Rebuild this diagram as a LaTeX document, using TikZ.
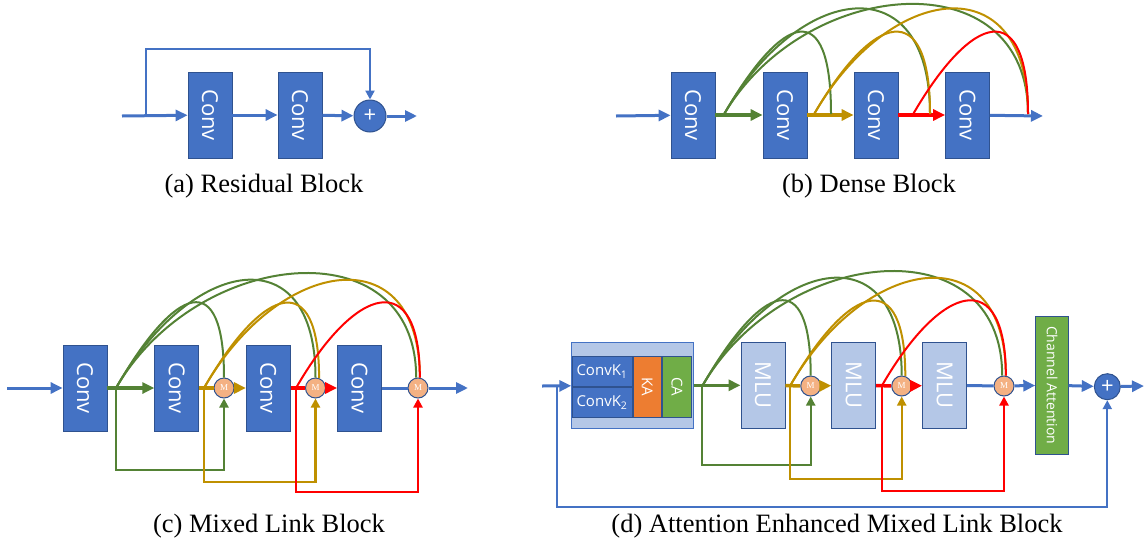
\documentclass[tikz,border=0pt]{standalone}
\usepackage{fontspec}
\setmainfont{Liberation Serif}
\newfontfamily\boxfont{Open Sans}
\usetikzlibrary{arrows.meta}
\definecolor{boxblue}{HTML}{4472C4}
\definecolor{edgeblue}{HTML}{2F528F}
\definecolor{lightblue}{HTML}{B4C7E7}
\definecolor{linkgreen}{HTML}{548235}
\definecolor{linkgold}{HTML}{BF9000}
\definecolor{linkred}{HTML}{FF0000}
\definecolor{mixorange}{HTML}{F4B183}
\definecolor{kaorange}{HTML}{ED7D31}
\definecolor{cagreen}{HTML}{70AD47}

\begin{document}
\begin{tikzpicture}[x=1pt, y=-1pt,
  >={Triangle[length=12pt,width=11pt]},
  convbox/.style={draw=edgeblue, line width=0.8pt, fill=boxblue, text=white, minimum width=44pt, minimum height=86pt, inner sep=0pt, font=\boxfont\fontsize{22}{22}\selectfont},
  mlubox/.style={convbox, fill=lightblue},
  mnode/.style={circle, draw=edgeblue, line width=1pt, fill=mixorange, text=white, minimum size=20pt, inner sep=0pt, font=\fontsize{9}{9}\selectfont},
  plusnode/.style={circle, draw=edgeblue, line width=1pt, fill=boxblue, text=white, inner sep=0pt, font=\boxfont\fontsize{22}{22}\selectfont},
  smallbox/.style={draw=edgeblue, line width=0.8pt, text=white, inner sep=0pt, font=\boxfont\fontsize{15}{15}\selectfont},
  caption/.style={anchor=base, font=\fontsize{26.5}{30}\selectfont},
  bline/.style={boxblue, line width=3pt},
  gline/.style={linkgreen, line width=3.5pt},
  yline/.style={linkgold, line width=3.5pt},
  rline/.style={linkred, line width=3.5pt},
  thin/.style={line width=2.2pt, -{Triangle[length=9pt,width=9pt]}},
  garc/.style={linkgreen, line width=2pt},
  yarc/.style={linkgold, line width=2pt},
  rarc/.style={linkred, line width=2pt}]

\useasboundingbox (0,0) rectangle (1145,544);

% (a)
\node[convbox] (a1) at (210,115) {\rotatebox{-90}{Conv}};
\node[convbox] (a2) at (300,115) {\rotatebox{-90}{Conv}};
\node[plusnode, minimum size=32pt] (ap) at (370,116) {+};
\coordinate (ain) at (122,116);
\coordinate (aout) at (417,116);
\coordinate (askip) at (146,116);
\coordinate (atop) at (370,49);

\draw[bline,->] (ain) -- (a1);
\draw[bline,->] (a1) -- (a2);
\draw[bline,->] (a2) -- (ap);
\draw[bline,->] (ap) -- (aout);
\draw[boxblue,thin] (askip) |- (atop) -- (ap);

\node[caption] (capa) at (264,192) {(a) Residual Block};

% (b)
\node[convbox] (b1) at (693,115) {\rotatebox{-90}{Conv}};
\node[convbox] (b2) at (785,115) {\rotatebox{-90}{Conv}};
\node[convbox] (b3) at (876,115) {\rotatebox{-90}{Conv}};
\node[convbox] (b4) at (967.5,115) {\rotatebox{-90}{Conv}};
\coordinate (bin) at (616,116);
\coordinate (bout) at (1043,116);
\coordinate (bg) at (723,116);
\coordinate (by) at (813,116);
\coordinate (br) at (912,116);
\coordinate (bend1) at (831,114);
\coordinate (bend2) at (930,114);
\coordinate (bend3) at (1028,114);

\draw[bline,->] (bin) -- (b1);
\draw[gline,->] (b1) -- (b2);
\draw[yline,->] (b2) -- (b3);
\draw[rline,->] (b3) -- (b4);
\draw[bline,->] (b4) -- (bout);

\draw[garc] (bg) .. controls +(60,-104) and +(0,-118) .. (bend1);
\draw[garc] (bg) .. controls +(76,-134) and +(0,-150) .. (bend2);
\draw[garc] (bg) .. controls +(81,-140) and +(0,-156) .. (bend3);
\draw[yarc] (by) .. controls +(60,-104) and +(0,-118) .. (bend2);
\draw[yarc] (by) .. controls +(76,-134) and +(0,-150) .. (bend3);
\draw[rarc] (br) .. controls +(60,-104) and +(0,-118) .. (bend3);

\node[caption] (capb) at (869,192) {(b) Dense Block};

% (c)
\node[convbox] (c1) at (85,388) {\rotatebox{-90}{Conv}};
\node[convbox] (c2) at (176.7,388) {\rotatebox{-90}{Conv}};
\node[convbox] (c3) at (268.3,388) {\rotatebox{-90}{Conv}};
\node[convbox] (c4) at (359.5,388) {\rotatebox{-90}{Conv}};
\node[mnode] (cm1) at (224,388) {M};
\node[mnode] (cm2) at (315.5,388) {M};
\node[mnode] (cm3) at (418,388) {M};
\coordinate (cin) at (7,388);
\coordinate (cout) at (468,388);
\coordinate (cg) at (116,388);
\coordinate (cy) at (204,388);
\coordinate (cr) at (296,388);

\draw[bline,->] (cin) -- (c1);
\draw[gline,->] (c1) -- (c2);
\draw[yline] (c2) -- (cm1);
\draw[yline,->] (cm1) -- (c3);
\draw[rline] (c3) -- (cm2);
\draw[rline,->] (cm2) -- (c4);
\draw[bline] (c4) -- (cm3);
\draw[bline,->] (cm3) -- (cout);

\draw[linkgreen,thin] (cg) -- ++(0,82) -| (cm1);
\draw[linkgold,thin] (cy) -- ++(0,94) -| (cm2);
\draw[linkred,thin] (cr) -- ++(0,104) -| (cm3);

\draw[garc] (cg) .. controls +(60,-104) and +(0,-110) .. (cm1.north);
\draw[garc] (cg) .. controls +(76,-132) and +(0,-142) .. (cm2.north);
\draw[garc] (cg) .. controls +(81,-140) and +(0,-152) .. (cm3.100);
\draw[yarc] (cy) .. controls +(60,-104) and +(0,-110) .. (cm2.70);
\draw[yarc] (cy) .. controls +(76,-132) and +(0,-142) .. (cm3.80);
\draw[rarc] (cr) .. controls +(60,-104) and +(0,-110) .. (cm3.80);

\node[caption] (capc) at (269,532) {(c) Mixed Link Block};

% (d)
\node[draw=boxblue, line width=0.8pt, fill=lightblue, minimum width=121.6pt, minimum height=86pt, inner sep=0pt] (d0) at (632.5,385.3) {};
\node[smallbox, fill=boxblue, minimum width=60pt, minimum height=29.3pt] (k1) at (602,371.3) {ConvK\textsubscript{1}};
\node[smallbox, fill=boxblue, minimum width=60pt, minimum height=30pt] (k2) at (602,402.3) {ConvK\textsubscript{2}};
\node[smallbox, fill=kaorange, minimum width=27.7pt, minimum height=60.6pt] (ka) at (647.2,387) {\rotatebox{-90}{KA}};
\node[smallbox, fill=cagreen, minimum width=28.3pt, minimum height=60.6pt] (ca) at (676.9,387) {\rotatebox{-90}{CA}};
\node[mlubox] (d1) at (762.9,385.3) {\rotatebox{-90}{MLU}};
\node[mlubox] (d2) at (853.7,385.3) {\rotatebox{-90}{MLU}};
\node[mlubox] (d3) at (944.5,385.3) {\rotatebox{-90}{MLU}};
\node[mnode] (dm1) at (810.7,386) {M};
\node[mnode] (dm2) at (901.7,386) {M};
\node[mnode] (dm3) at (1004,386) {M};
\node[smallbox, fill=cagreen, minimum width=32.6pt, minimum height=138.3pt, font=\boxfont\fontsize{14}{14}\selectfont] (dca) at (1052,385.2) {\rotatebox{-90}{Channel Attention}};
\node[plusnode, minimum size=26pt] (dp) at (1107.3,386.7) {+};
\coordinate (din) at (542,386);
\coordinate (dout) at (1144,386);
\coordinate (ds) at (556.7,386);
\coordinate (dg) at (702.3,386);
\coordinate (dy) at (790,386);
\coordinate (dr) at (881.7,386);

\draw[bline,->] (din) -- (d0);
\draw[gline,->] (d0) -- (d1);
\draw[yline] (d1) -- (dm1);
\draw[yline,->] (dm1) -- (d2);
\draw[rline] (d2) -- (dm2);
\draw[rline,->] (dm2) -- (d3);
\draw[bline] (d3) -- (dm3);
\draw[bline,->] (dm3) -- (dca);
\draw[bline,->] (dca) -- (dp);
\draw[bline,->] (dp) -- (dout);

\draw[boxblue,thin] (ds) -- ++(0,121) -| (dp);
\draw[linkgreen,thin] (dg) -- ++(0,79) -| (dm1);
\draw[linkgold,thin] (dy) -- ++(0,93) -| (dm2);
\draw[linkred,thin] (dr) -- ++(0,105) -| (dm3);

\draw[garc] (dg) .. controls +(60,-104) and +(0,-110) .. (dm1.north);
\draw[garc] (dg) .. controls +(76,-132) and +(0,-142) .. (dm2.north);
\draw[garc] (dg) .. controls +(81,-140) and +(0,-152) .. (dm3.100);
\draw[yarc] (dy) .. controls +(60,-104) and +(0,-110) .. (dm2.70);
\draw[yarc] (dy) .. controls +(76,-132) and +(0,-142) .. (dm3.80);
\draw[rarc] (dr) .. controls +(60,-104) and +(0,-110) .. (dm3.80);

\node[caption] (capd) at (837,532) {(d) Attention Enhanced Mixed Link Block};

\end{tikzpicture}
\end{document}
